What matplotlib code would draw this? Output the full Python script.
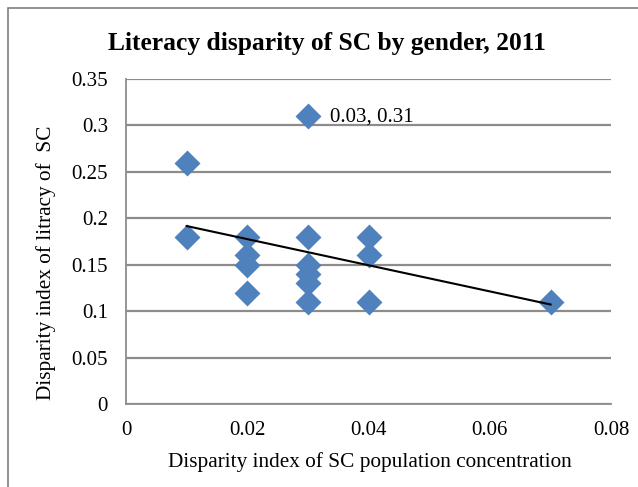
import numpy as np
import matplotlib.pyplot as plt
from matplotlib.patches import Rectangle

# population concentration disparity vs literacy disparity
x_vals = [0.01, 0.01, 0.02, 0.02, 0.02, 0.02, 0.03, 0.03, 0.03, 0.03, 0.03, 0.03, 0.04, 0.04, 0.04, 0.07]
y_vals = [0.26, 0.18, 0.18, 0.16, 0.15, 0.12, 0.31, 0.18, 0.15, 0.14, 0.13, 0.11, 0.18, 0.16, 0.11, 0.11]
x_ticks = [0, 0.02, 0.04, 0.06, 0.08]
x_ticklabels = ['0', '0.02', '0.04', '0.06', '0.08']
y_ticks = [0, 0.05, 0.1, 0.15, 0.2, 0.25, 0.3, 0.35]
y_ticklabels = ['0', '0.05', '0.1', '0.15', '0.2', '0.25', '0.3', '0.35']

plt.rcParams['font.family'] = ['Liberation Serif', 'DejaVu Serif']

fig = plt.figure(figsize=(6.38, 4.87), dpi=100)
ax = fig.add_axes([0.1975, 0.1704, 0.7605, 0.6674])

# chart area border
fig.patches.append(Rectangle((0.012, -0.1), 1.2, 1.083, transform=fig.transFigure,
                             fill=False, edgecolor='#7f7f7f', linewidth=1.2))

ax.set_axisbelow(True)
ax.grid(axis='y', color='#8c8c8c', linewidth=1.6)
ax.scatter(x_vals, y_vals, marker='D', s=175, color='#4f81bd', zorder=3, linewidths=0)

# linear trendline
xa = np.array(x_vals)
ya = np.array(y_vals)
m, b = np.polyfit(xa, ya, 1)
xl = np.array([xa.min(), xa.max()])
ax.plot(xl, m * xl + b, color='black', linewidth=1.5, zorder=4)

ax.annotate('0.03, 0.31', xy=(0.03, 0.31), xytext=(16, -1), textcoords='offset points',
            fontsize=15, va='center', ha='left')

ax.set_xlim(0, 0.08)
ax.set_ylim(0, 0.35)
ax.set_xticks(x_ticks)
ax.set_xticklabels(x_ticklabels, fontsize=15)
ax.set_yticks(y_ticks)
ax.set_yticklabels(y_ticklabels, fontsize=15)
ax.tick_params(axis='x', length=0, pad=12)
ax.tick_params(axis='y', length=0, pad=13)

for s in ['top', 'right']:
    ax.spines[s].set_visible(False)
for s in ['left', 'bottom']:
    ax.spines[s].set_color('#8c8c8c')
    ax.spines[s].set_linewidth(1.3)

ax.set_xlabel('Disparity index of SC population concentration', fontsize=15.3, va='center')
ax.xaxis.set_label_coords(0.502, -0.178)
ax.set_ylabel('Disparity index of litracy of  SC', fontsize=15.3, va='center')
ax.yaxis.set_label_coords(-0.165, 0.434)
fig.text(0.5125, 0.911, 'Literacy disparity of SC by gender, 2011', fontsize=18.4,
         fontweight='bold', ha='center', va='center')

fig.savefig('out.png', dpi=100)
